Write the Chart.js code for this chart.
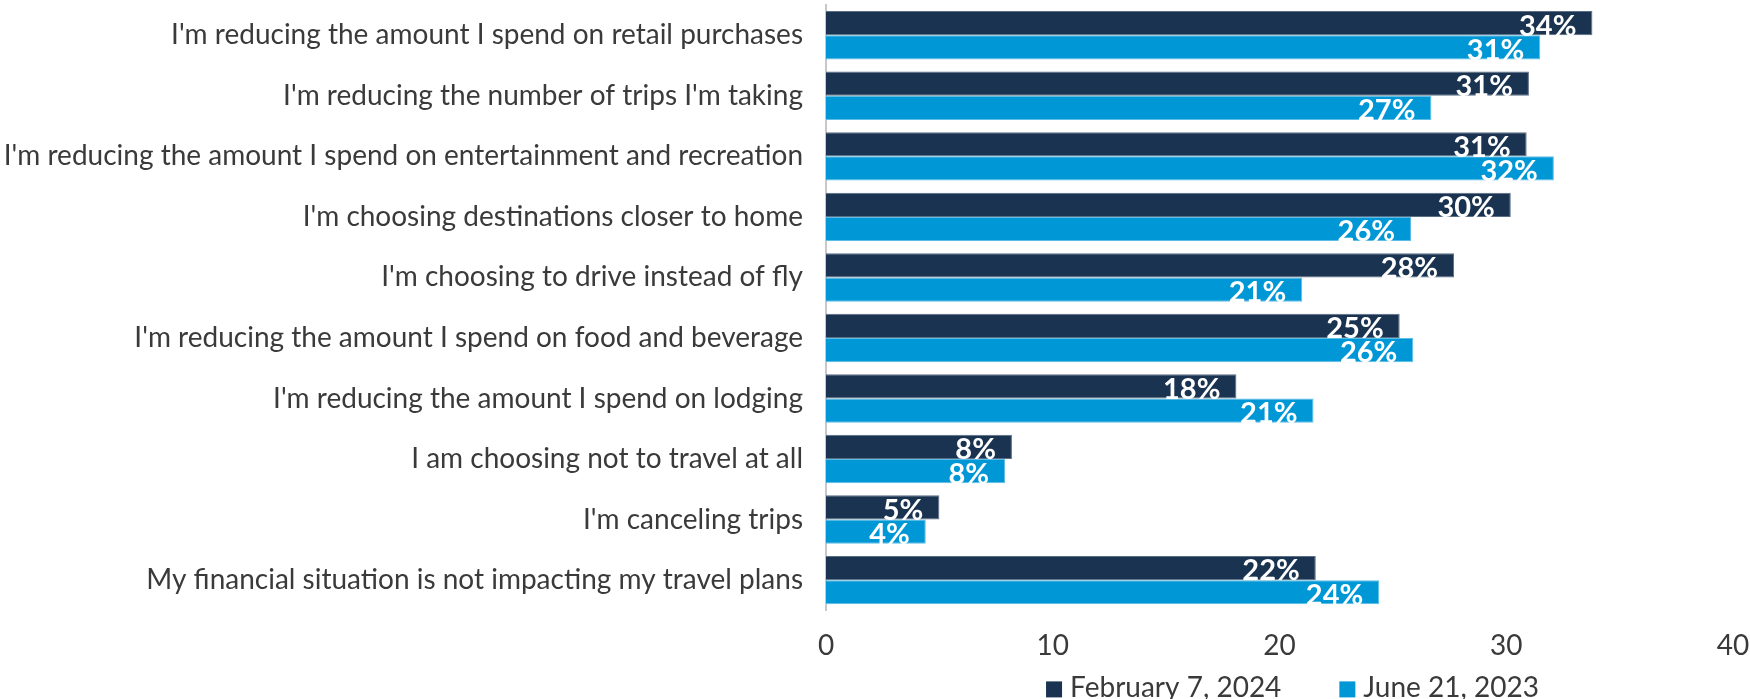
<!DOCTYPE html>
<html>
<head>
<meta charset="utf-8">
<script src="https://cdn.jsdelivr.net/npm/chart.js@4.4.1/dist/chart.umd.min.js"></script>
<style>
  html, body { margin: 0; padding: 0; background: #ffffff; }
  #wrap { width: 1750px; height: 699px; position: relative; }
</style>
</head>
<body>
<div id="wrap"><canvas id="c" width="1750" height="699"></canvas></div>
<script>
const categories = [
  "I'm reducing the amount I spend on retail purchases",
  "I'm reducing the number of trips I'm taking",
  "I'm reducing the amount I spend on entertainment and recreation",
  "I'm choosing destinations closer to home",
  "I'm choosing to drive instead of fly",
  "I'm reducing the amount I spend on food and beverage",
  "I'm reducing the amount I spend on lodging",
  "I am choosing not to travel at all",
  "I'm canceling trips",
  "My financial situation is not impacting my travel plans"
];
const seriesNames = ["February 7, 2024", "June 21, 2023"];
const feb2024 = [33.8, 31.0, 30.9, 30.2, 27.7, 25.3, 18.1, 8.2, 5.0, 21.6];
const jun2023 = [31.5, 26.7, 32.1, 25.8, 21.0, 25.9, 21.5, 7.9, 4.4, 24.4];
const febLabels = ["34%", "31%", "31%", "30%", "28%", "25%", "18%", "8%", "5%", "22%"];
const junLabels = ["31%", "27%", "32%", "26%", "21%", "26%", "21%", "8%", "4%", "24%"];
const xTicks = [0, 10, 20, 30, 40];

const FONT = "Lato, 'Open Sans', sans-serif";
const TEXT_COLOR = '#3a3a3a';

const valueLabelPlugin = {
  id: 'valueLabels',
  afterDatasetsDraw(chart) {
    const ctx = chart.ctx;
    ctx.save();
    ctx.fillStyle = '#ffffff';
    ctx.font = "bold 29px " + FONT;
    ctx.textAlign = 'right';
    ctx.textBaseline = 'middle';
    chart.data.datasets.forEach((ds, di) => {
      const meta = chart.getDatasetMeta(di);
      meta.data.forEach((bar, i) => {
        ctx.fillText(ds.labelsText[i], bar.x - 16, bar.y + 3);
      });
    });
    ctx.restore();
  }
};

const bottomLegendPlugin = {
  id: 'bottomLegend',
  afterDraw(chart) {
    const ctx = chart.ctx;
    const area = chart.chartArea;
    ctx.save();
    ctx.font = "28px " + FONT;
    const box = 16, gapText = 8, gapItem = 58;
    const items = chart.data.datasets.map(ds => ({
      text: ds.label, color: ds.backgroundColor, w: ctx.measureText(ds.label).width
    }));
    let total = 0;
    items.forEach((it, i) => { total += box + gapText + it.w + (i < items.length - 1 ? gapItem : 0); });
    const cx = (area.left + area.right) / 2 + 13;
    let x = cx - total / 2;
    const baseY = area.bottom + 87;
    ctx.textAlign = 'left';
    ctx.textBaseline = 'alphabetic';
    items.forEach(it => {
      ctx.fillStyle = it.color;
      ctx.fillRect(x, baseY - box, box, box);
      ctx.fillStyle = TEXT_COLOR;
      ctx.fillText(it.text, x + box + gapText, baseY);
      x += box + gapText + it.w + gapItem;
    });
    ctx.restore();
  }
};

new Chart(document.getElementById('c'), {
  type: 'bar',
  data: {
    labels: categories,
    datasets: [
      {
        label: seriesNames[0],
        data: feb2024,
        labelsText: febLabels,
        backgroundColor: '#1a3350',
        borderColor: '#5a6e86',
        borderWidth: 1,
        categoryPercentage: 0.8,
        barPercentage: 1.0
      },
      {
        label: seriesNames[1],
        data: jun2023,
        labelsText: junLabels,
        backgroundColor: '#0097d6',
        borderColor: '#5cbde6',
        borderWidth: 1,
        categoryPercentage: 0.8,
        barPercentage: 1.0
      }
    ]
  },
  options: {
    indexAxis: 'y',
    responsive: false,
    animation: false,
    layout: { padding: { top: 5, right: 17, left: 0, bottom: 17 } },
    scales: {
      x: {
        min: 0,
        max: 40,
        afterBuildTicks(scale) { scale.ticks = xTicks.map(v => ({ value: v })); },
        afterFit(scale) {
          scale.paddingLeft = 0;
          scale.paddingRight = 0;
        },
        grid: { display: false, drawTicks: false },
        border: { display: false },
        ticks: {
          color: TEXT_COLOR,
          font: { family: FONT, size: 28 },
          padding: 19
        }
      },
      y: {
        grid: { display: false, drawTicks: false },
        border: { display: true, color: '#c8c8c8', width: 2 },
        afterFit(scale) {
          scale.width = 826;
          scale.paddingTop = 0;
          scale.paddingBottom = 0;
        },
        ticks: {
          color: TEXT_COLOR,
          font: { family: FONT, size: 28 },
          padding: 23
        }
      }
    },
    plugins: {
      legend: { display: false },
      tooltip: { enabled: false }
    }
  },
  plugins: [valueLabelPlugin, bottomLegendPlugin]
});
</script>
</body>
</html>
